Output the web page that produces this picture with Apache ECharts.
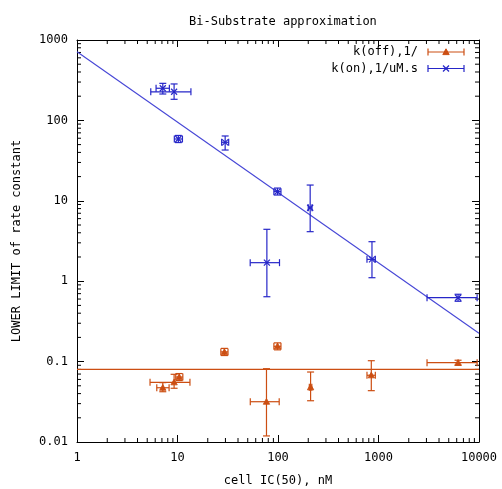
<!DOCTYPE html>
<html>
<head>
<meta charset="utf-8">
<script src="https://cdn.jsdelivr.net/npm/echarts@6/dist/echarts.min.js"></script>
<style>html,body{margin:0;padding:0;background:#fff}#c{width:502px;height:489px}</style>
</head>
<body>
<div id="c"></div>
<script>
// ---- data ----
const xTickLabels = [1, 10, 100, 1000, 10000];
const yTickLabels = [0.01, 0.1, 1, 10, 100, 1000];

// k(on), 1/uM.s  (blue)
const konX    = [7.14, 9.25, 10.2, 29.8, 98.9, 209, 77.5, 861, 6190];
const konY    = [251, 227, 58.7, 53.4, 13.0, 8.2, 1.70, 1.87, 0.623];
const konXLo  = [6.12, 5.42, 9.3, 27.5, 91, 200, 52.9, 768, 3040];
const konXHi  = [8.3, 13.6, 11.2, 32.3, 107, 218, 103.5, 930, 9580];
const konYLo  = [213, 183, 53, 42.8, 11.8, 4.13, 0.641, 1.105, 0.563];
const konYHi  = [289, 284, 65, 64, 14.4, 15.7, 4.42, 3.10, 0.688];

// k(off), 1/  (orange)
const koffX   = [29.3, 98.9, 10.4, 9.25, 7.14, 76.8, 211, 848, 6190];
const koffY   = [0.132, 0.155, 0.0643, 0.0553, 0.0473, 0.0317, 0.0479, 0.0676, 0.0969];
const koffXLo = [27.0, 91, 9.6, 5.33, 6.22, 53.0, 205, 768, 3040];
const koffXHi = [31.8, 107, 11.3, 13.3, 8.25, 102.8, 217, 930, 9580];
const koffYLo = [0.119, 0.140, 0.058, 0.0466, 0.0422, 0.0119, 0.0326, 0.0435, 0.090];
const koffYHi = [0.146, 0.171, 0.071, 0.0695, 0.0548, 0.0816, 0.0742, 0.1026, 0.104];

// fitted lines
const konFitX  = [1, 10000];
const konFitY  = [715, 0.225];
const koffFitX = [1, 10000];
const koffFitY = [0.0802, 0.0802];

const BLUE = '#2626c8';
const BLUE_LINE = '#4646d6';
const ORANGE = '#cc4e12';
const FONT = '"DejaVu Sans Mono", "Liberation Mono", monospace';

function rows(xs, ys, xl, xh, yl, yh) {
  return xs.map((x, i) => [x, ys[i], xl[i], xh[i], yl[i], yh[i]]);
}

function errRender(color, marker) {
  return function (params, api) {
    const x = api.value(0), y = api.value(1);
    const xl = api.value(2), xh = api.value(3), yl = api.value(4), yh = api.value(5);
    const p = api.coord([x, y]);
    const pxl = api.coord([xl, y]), pxh = api.coord([xh, y]);
    const pyl = api.coord([x, yl]), pyh = api.coord([x, yh]);
    const c = 3.5;
    const st = { stroke: color, lineWidth: 1.2, fill: null };
    const ch = [];
    const L = (x1, y1, x2, y2) => ch.push({ type: 'line', shape: { x1, y1, x2, y2 }, style: st });
    L(p[0], pyl[1], p[0], pyh[1]);
    L(p[0] - c, pyl[1], p[0] + c, pyl[1]);
    L(p[0] - c, pyh[1], p[0] + c, pyh[1]);
    L(pxl[0], p[1], pxh[0], p[1]);
    L(pxl[0], p[1] - c, pxl[0], p[1] + c);
    L(pxh[0], p[1] - c, pxh[0], p[1] + c);
    if (marker === 'cross') {
      const m = 3;
      L(p[0] - m, p[1] - m, p[0] + m, p[1] + m);
      L(p[0] - m, p[1] + m, p[0] + m, p[1] - m);
    } else {
      const m = 3.2;
      ch.push({ type: 'polygon', shape: { points: [[p[0], p[1] - m], [p[0] + m, p[1] + m * 0.8], [p[0] - m, p[1] + m * 0.8]] }, style: { fill: color, stroke: color, lineWidth: 0.8 } });
    }
    return { type: 'group', children: ch };
  };
}

// minor ticks (log 2..9 within each decade)
const xMinor = [], yMinor = [];
for (let d = 1; d < 10000; d *= 10) for (let k = 2; k <= 9; k++) xMinor.push(d * k);
for (let d = 0.01; d < 999; d *= 10) for (let k = 2; k <= 9; k++) yMinor.push(+(d * k).toPrecision(3));

function minorRender(params, api) {
  const ch = [];
  const st = { stroke: '#000', lineWidth: 1 };
  const xmin = xTickLabels[0], xmax = xTickLabels[xTickLabels.length - 1];
  const ymin = yTickLabels[0], ymax = yTickLabels[yTickLabels.length - 1];
  const len = 4;
  xMinor.forEach(v => {
    const b = api.coord([v, ymin]), t = api.coord([v, ymax]);
    ch.push({ type: 'line', shape: { x1: b[0], y1: b[1], x2: b[0], y2: b[1] - len }, style: st });
    ch.push({ type: 'line', shape: { x1: t[0], y1: t[1], x2: t[0], y2: t[1] + len }, style: st });
  });
  yMinor.forEach(v => {
    const l = api.coord([xmin, v]), r = api.coord([xmax, v]);
    ch.push({ type: 'line', shape: { x1: l[0], y1: l[1], x2: l[0] + len, y2: l[1] }, style: st });
    ch.push({ type: 'line', shape: { x1: r[0], y1: r[1], x2: r[0] - len, y2: r[1] }, style: st });
  });
  return { type: 'group', children: ch };
}

const chart = echarts.init(document.getElementById('c'), null, { renderer: 'canvas' });

const axisCommon = {
  type: 'log', logBase: 10,
  axisLine: { show: true, onZero: false, lineStyle: { color: '#000', width: 1 } },
  axisTick: { show: true, inside: true, length: 7, lineStyle: { color: '#000' } },
  splitLine: { show: false },
  minorTick: { show: false }
};

const plainNum = v => String(+(+v).toPrecision(3));

// legend samples (drawn with graphic)
function legendSample(y, color, marker, label) {
  const x1 = 428, x2 = 464, cx = 446, c = 3.5;
  const st = { stroke: color, lineWidth: 1.2 };
  const ch = [
    { type: 'text', style: { text: label, x: 418, y: y, textAlign: 'right', textVerticalAlign: 'middle', font: '12px ' + FONT, fill: '#000' } },
    { type: 'line', shape: { x1, y1: y, x2, y2: y }, style: st },
    { type: 'line', shape: { x1, y1: y - c, x2: x1, y2: y + c }, style: st },
    { type: 'line', shape: { x1: x2, y1: y - c, x2: x2, y2: y + c }, style: st }
  ];
  if (marker === 'cross') {
    ch.push({ type: 'line', shape: { x1: cx - 3, y1: y - 3, x2: cx + 3, y2: y + 3 }, style: st });
    ch.push({ type: 'line', shape: { x1: cx - 3, y1: y + 3, x2: cx + 3, y2: y - 3 }, style: st });
  } else {
    ch.push({ type: 'polygon', shape: { points: [[cx, y - 3.2], [cx + 3.2, y + 2.6], [cx - 3.2, y + 2.6]] }, style: { fill: color, stroke: color } });
  }
  return { type: 'group', children: ch };
}

chart.setOption({
  animation: false,
  backgroundColor: '#fff',
  title: {
    text: 'Bi-Substrate approximation',
    left: 184, top: 11,
    textStyle: { fontFamily: FONT, fontSize: 12, fontWeight: 'normal', color: '#000' }
  },
  grid: { left: 77, right: 23, top: 40, bottom: 47, containLabel: false, outerBoundsMode: 'none' },
  xAxis: [
    Object.assign({}, axisCommon, {
      min: xTickLabels[0], max: xTickLabels[xTickLabels.length - 1], position: 'bottom',
      name: 'cell IC(50), nM', nameLocation: 'middle', nameGap: 33,
      nameTextStyle: { fontFamily: FONT, fontSize: 12, color: '#000' },
      axisLabel: { fontFamily: FONT, fontSize: 12, color: '#000', margin: 10, formatter: plainNum }
    }),
    Object.assign({}, axisCommon, {
      min: xTickLabels[0], max: xTickLabels[xTickLabels.length - 1], position: 'top',
      axisLabel: { show: false }
    })
  ],
  yAxis: [
    Object.assign({}, axisCommon, {
      min: yTickLabels[0], max: yTickLabels[yTickLabels.length - 1], position: 'left',
      name: 'LOWER LIMIT of rate constant', nameLocation: 'middle', nameGap: 54, nameRotate: 90,
      nameTextStyle: { fontFamily: FONT, fontSize: 12, color: '#000' },
      axisLabel: { fontFamily: FONT, fontSize: 12, color: '#000', margin: 9, formatter: plainNum }
    }),
    Object.assign({}, axisCommon, {
      min: yTickLabels[0], max: yTickLabels[yTickLabels.length - 1], position: 'right',
      axisLabel: { show: false }
    })
  ],
  graphic: [
    legendSample(52, ORANGE, 'tri', 'k(off),1/'),
    legendSample(68.5, BLUE, 'cross', 'k(on),1/uM.s')
  ],
  series: [
    {
      type: 'custom', name: 'minor', renderItem: minorRender, data: [[1, 1]], silent: true, clip: false, z: 1
    },
    {
      type: 'line', name: 'k(off) fit', data: koffFitX.map((x, i) => [x, koffFitY[i]]),
      showSymbol: false, lineStyle: { color: ORANGE, width: 1.2 }, z: 2
    },
    {
      type: 'line', name: 'k(on) fit', data: konFitX.map((x, i) => [x, konFitY[i]]),
      showSymbol: false, lineStyle: { color: BLUE_LINE, width: 1.1 }, z: 2
    },
    {
      type: 'custom', name: 'k(off),1/', renderItem: errRender(ORANGE, 'tri'),
      data: rows(koffX, koffY, koffXLo, koffXHi, koffYLo, koffYHi), clip: false, z: 3,
      encode: { x: 0, y: 1 }
    },
    {
      type: 'custom', name: 'k(on),1/uM.s', renderItem: errRender(BLUE, 'cross'),
      data: rows(konX, konY, konXLo, konXHi, konYLo, konYHi), clip: false, z: 3,
      encode: { x: 0, y: 1 }
    }
  ]
});
</script>
</body>
</html>
